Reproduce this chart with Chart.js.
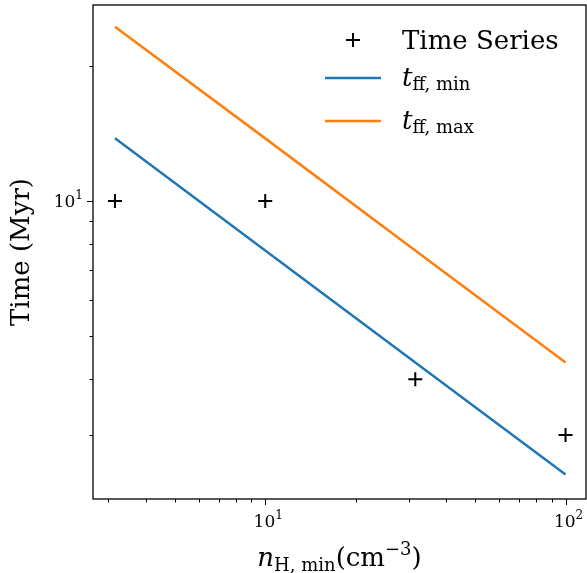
<!DOCTYPE html>
<html>
<head>
<meta charset="utf-8">
<script src="https://cdn.jsdelivr.net/npm/chart.js@4"></script>
<style>
  body { margin: 0; background: #fff; }
  canvas { display: block; }
</style>
</head>
<body>
<canvas id="chart" width="587" height="573"></canvas>
<script>
// densidade minima (cm^-3)
const nH = [3.16, 10, 31.6, 100];
// pontos da serie temporal (Myr)
const timeSeries = [10, 10, 4, 3];
// tempos de queda livre
const tffMin = [13.8, 7.75, 4.36, 2.45];
const tffMax = [24.5, 13.8, 7.75, 4.36];

// ticks dos eixos
const xTicks = [3, 4, 5, 6, 7, 8, 9, 10, 20, 30, 40, 50, 60, 70, 80, 90, 100];
const xMajor = [10, 100];
const xMajorLabels = ['1', '2'];
const yTicks = [3, 4, 5, 6, 7, 8, 9, 10, 20];
const yMajor = [10];
const yMajorLabels = ['1'];

const SERIF = "'DejaVu Serif', serif";
const BLUE = '#1f77b4';
const ORANGE = '#ff7f0e';

// desenha texto com partes (normal / italico / sub / sup)
function drawParts(ctx, parts, x, y, align) {
    let total = 0;
    parts.forEach(p => {
        ctx.font = (p.italic ? 'italic ' : '') + p.size + 'px ' + SERIF;
        p.w = ctx.measureText(p.text).width;
        total += p.w;
    });
    let cx = align === 'center' ? x - total / 2 : (align === 'right' ? x - total : x);
    ctx.textBaseline = 'alphabetic';
    ctx.textAlign = 'left';
    parts.forEach(p => {
        ctx.font = (p.italic ? 'italic ' : '') + p.size + 'px ' + SERIF;
        ctx.fillText(p.text, cx, y + (p.dy || 0));
        cx += p.w;
    });
}

const decorPlugin = {
    id: 'decor',
    afterDraw(chart) {
        const ctx = chart.ctx;
        const a = chart.chartArea;
        const xs = chart.scales.x, ys = chart.scales.y;
        ctx.save();
        ctx.fillStyle = '#000';
        ctx.strokeStyle = '#000';

        // moldura
        ctx.lineWidth = 1.3;
        ctx.strokeRect(a.left, a.top, a.right - a.left, a.bottom - a.top);

        // ticks x
        ctx.lineWidth = 1;
        xTicks.forEach(v => {
            const px = Math.round(xs.getPixelForValue(v)) + 0.5;
            const len = xMajor.includes(v) ? 6 : 3.5;
            ctx.beginPath();
            ctx.moveTo(px, a.bottom);
            ctx.lineTo(px, a.bottom + len);
            ctx.stroke();
        });
        xMajor.forEach((v, i) => {
            const px = xs.getPixelForValue(v);
            drawParts(ctx, [
                { text: '10', size: 17 },
                { text: xMajorLabels[i], size: 12, dy: -8 }
            ], px + 3, a.bottom + 28, 'center');
        });

        // ticks y
        yTicks.forEach(v => {
            const py = Math.round(ys.getPixelForValue(v)) + 0.5;
            const len = yMajor.includes(v) ? 6 : 3.5;
            ctx.beginPath();
            ctx.moveTo(a.left, py);
            ctx.lineTo(a.left - len, py);
            ctx.stroke();
        });
        yMajor.forEach((v, i) => {
            const py = ys.getPixelForValue(v);
            drawParts(ctx, [
                { text: '10', size: 17 },
                { text: yMajorLabels[i], size: 12, dy: -8 }
            ], a.left - 10, py + 6, 'right');
        });

        // titulo eixo x
        drawParts(ctx, [
            { text: 'n', size: 26, italic: true },
            { text: 'H, min', size: 18, dy: 5 },
            { text: '(cm', size: 26 },
            { text: '\u22123', size: 18, dy: -11 },
            { text: ')', size: 26 }
        ], (a.left + a.right) / 2, 566, 'center');

        // titulo eixo y
        ctx.save();
        ctx.translate(29, (a.top + a.bottom) / 2);
        ctx.rotate(-Math.PI / 2);
        ctx.font = '26px ' + SERIF;
        ctx.textAlign = 'center';
        ctx.textBaseline = 'alphabetic';
        ctx.fillText('Time (Myr)', 0, 0);
        ctx.restore();

        // legenda
        ctx.lineWidth = 2;
        ctx.beginPath();
        ctx.moveTo(346, 40); ctx.lineTo(360, 40);
        ctx.moveTo(353, 33); ctx.lineTo(353, 47);
        ctx.stroke();
        drawParts(ctx, [{ text: 'Time Series', size: 26 }], 402, 49, 'left');

        ctx.lineWidth = 2.5;
        ctx.strokeStyle = BLUE;
        ctx.beginPath(); ctx.moveTo(325, 78); ctx.lineTo(381, 78); ctx.stroke();
        drawParts(ctx, [
            { text: 't', size: 26, italic: true },
            { text: 'ff, min', size: 18, dy: 4 }
        ], 402, 86, 'left');

        ctx.strokeStyle = ORANGE;
        ctx.beginPath(); ctx.moveTo(325, 121); ctx.lineTo(381, 121); ctx.stroke();
        drawParts(ctx, [
            { text: 't', size: 26, italic: true },
            { text: 'ff, max', size: 18, dy: 4 }
        ], 402, 129, 'left');

        ctx.restore();
    }
};

new Chart(document.getElementById('chart').getContext('2d'), {
    type: 'scatter',
    data: {
        datasets: [{
            label: 'Time Series',
            data: nH.map((x, i) => ({ x: x, y: timeSeries[i] })),
            pointStyle: 'cross',
            pointRadius: 7,
            borderColor: '#000',
            borderWidth: 2,
            showLine: false
        }, {
            label: 'tff,min',
            data: nH.map((x, i) => ({ x: x, y: tffMin[i] })),
            showLine: true,
            pointRadius: 0,
            borderColor: BLUE,
            borderWidth: 2.5
        }, {
            label: 'tff,max',
            data: nH.map((x, i) => ({ x: x, y: tffMax[i] })),
            showLine: true,
            pointRadius: 0,
            borderColor: ORANGE,
            borderWidth: 2.5
        }]
    },
    options: {
        responsive: false,
        devicePixelRatio: 1,
        animation: false,
        layout: { autoPadding: false, padding: { top: 5, right: 1, left: 0, bottom: 0 } },
        plugins: {
            legend: { display: false },
            tooltip: { enabled: false }
        },
        scales: {
            x: {
                type: 'logarithmic',
                min: 2.67,
                max: 117,
                grid: { display: false },
                border: { display: false },
                ticks: { display: false },
                afterFit: s => { s.height = 74; }
            },
            y: {
                type: 'logarithmic',
                min: 2.16,
                max: 27.4,
                grid: { display: false },
                border: { display: false },
                ticks: { display: false },
                afterFit: s => { s.width = 93; }
            }
        }
    },
    plugins: [decorPlugin]
});
</script>
</body>
</html>
